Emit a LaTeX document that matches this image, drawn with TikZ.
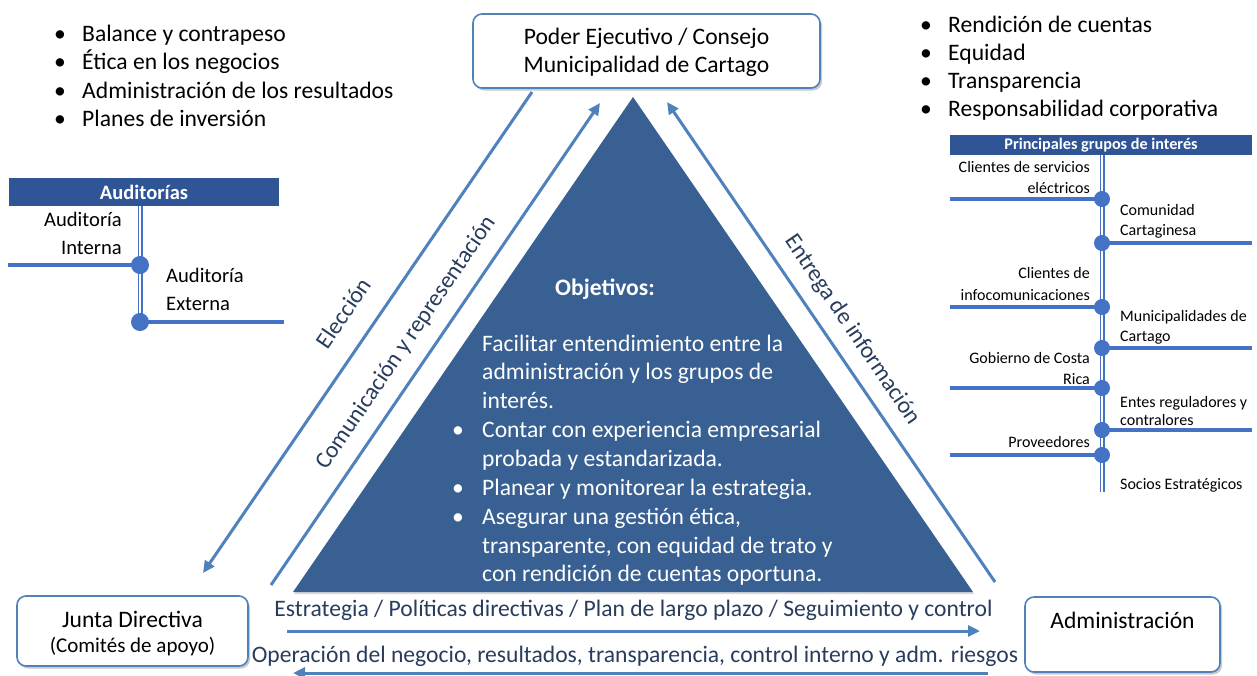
\documentclass[tikz,border=0pt]{standalone}
\usepackage{fontspec}
\setmainfont{Carlito}
\usetikzlibrary{arrows.meta,shadows}
\definecolor{tri}{RGB}{56,96,146}
\definecolor{hdr}{RGB}{47,85,151}
\definecolor{lnc}{RGB}{68,114,196}
\definecolor{arc}{RGB}{79,129,189}
\definecolor{lbl}{RGB}{40,60,92}
\tikzset{
  txt/.style={inner sep=0pt, font=\fontsize{23.6}{28}\selectfont},
  sm/.style={inner sep=0pt, font=\fontsize{16}{19}\selectfont},
  wt/.style={txt, text=white},
  rbox/.style={draw=arc, line width=1.6pt, rounded corners=9pt, fill=white,
     drop shadow={shadow xshift=2pt, shadow yshift=-2.5pt, opacity=0.35, fill=black!60}},
  flow/.style={draw=arc, line width=3pt, -{Triangle[length=12pt,width=11pt]}},
  rail/.style={draw=lnc, line width=5pt},
  railw/.style={draw=white, line width=1.2pt},
  hline/.style={draw=lnc, line width=4.5pt},
  dot/.style={circle, fill=lnc, minimum size=16pt, inner sep=0pt},
  hbar/.style={fill=hdr, inner sep=0pt, text=white},
  aud/.style={txt, font=\fontsize{20.6}{24}\selectfont},
}
\begin{document}
\begin{tikzpicture}[x=1pt,y=-1pt]
\useasboundingbox (0,0) rectangle (1257,675);

% ---------- boxes ----------
\node[rbox, minimum width=347pt, minimum height=74pt] (pe) at (646.5,51) {};
\node[txt, anchor=base] (pe1) at (646.5,44) {Poder Ejecutivo / Consejo};
\node[txt, anchor=base] (pe2) at (646.5,72) {Municipalidad de Cartago};

\node[rbox, minimum width=231pt, minimum height=70pt] (jd) at (132.5,631) {};
\node[txt, anchor=base] (jd1) at (132.5,627) {Junta Directiva};
\node[txt, anchor=base, font=\fontsize{21}{24}\selectfont] (jd2) at (132.5,652) {(Comités de apoyo)};

\node[rbox, minimum width=195pt, minimum height=75pt] (ad) at (1122.5,634.5) {};
\node[txt, anchor=base] (ad1) at (1122.5,628) {Administración};

% ---------- triangle ----------
\coordinate (apex) at (633,97);
\coordinate (bl) at (293,592);
\coordinate (br) at (973,592);
\fill[tri, drop shadow={shadow xshift=1pt, shadow yshift=-2pt, opacity=0.3}] (apex) -- (br) -- (bl) -- cycle;

\node[wt, anchor=base, font=\bfseries\fontsize{23.6}{28}\selectfont] (obj) at (605,295) {Objetivos:};
\node[wt, anchor=base west] (t1) at (482,351) {Facilitar entendimiento entre la};
\node[wt, anchor=base west] (t2) at (482,379.5) {administración y los grupos de};
\node[wt, anchor=base west] (t3) at (482,408) {interés.};
\node[wt, anchor=base west] (b1) at (452,437) {\textbullet};
\node[wt, anchor=base west] (t4) at (482,437) {Contar con experiencia empresarial};
\node[wt, anchor=base west] (t5) at (482,466) {probada y estandarizada.};
\node[wt, anchor=base west] (b2) at (452,495) {\textbullet};
\node[wt, anchor=base west] (t6) at (482,495) {Planear y monitorear la estrategia.};
\node[wt, anchor=base west] (b3) at (452,524) {\textbullet};
\node[wt, anchor=base west] (t7) at (482,524) {Asegurar una gestión ética,};
\node[wt, anchor=base west] (t8) at (482,553) {transparente, con equidad de trato y};
\node[wt, anchor=base west] (t9) at (482,581) {con rendición de cuentas oportuna.};

% ---------- diagonal arrows ----------
\coordinate (e1) at (532,92);
\coordinate (e2) at (203,573);
\draw[flow] (e1) -- (e2);
\coordinate (c1) at (271,585);
\coordinate (c2) at (600,103);
\draw[flow] (c1) -- (c2);
\coordinate (n1) at (995,582);
\coordinate (n2) at (667,102);
\draw[flow] (n1) -- (n2);

\node[txt, text=lbl, rotate=55.7] (lel) at (343,313) {Elección};
\node[txt, text=lbl, rotate=55.7] (lco) at (406,343) {Comunicación y representación};
\node[txt, text=lbl, rotate=-55.9] (len) at (852,330) {Entrega de información};

% ---------- horizontal arrows ----------
\node[txt, text=lbl, anchor=base] (hs) at (633.5,616) {Estrategia / Políticas directivas / Plan de largo plazo / Seguimiento y control};
\coordinate (h1) at (287,631);
\coordinate (h2) at (980,631);
\draw[flow] (h1) -- (h2);
\node[txt, text=lbl, anchor=base] (ho) at (635,662) {Operación del negocio, resultados, transparencia, control interno y adm. riesgos};
\coordinate (o1) at (988,673);
\coordinate (o2) at (293,673);
\draw[flow] (o1) -- (o2);

% ---------- bullet lists ----------
\foreach \i/\t in {0/Balance y contrapeso,1/Ética en los negocios,2/Administración de los resultados,3/Planes de inversión}{
  \node[txt, anchor=base west] (lb\i) at (54,41.5+28.3*\i) {\textbullet};
  \node[txt, anchor=base west] (lt\i) at (82,41.5+28.3*\i) {\t};
}
\foreach \i/\t in {0/Rendición de cuentas,1/Equidad,2/Transparencia,3/Responsabilidad corporativa}{
  \node[txt, anchor=base west] (rb\i) at (920,32+28.3*\i) {\textbullet};
  \node[txt, anchor=base west] (rt\i) at (948,32+28.3*\i) {\t};
}

% ---------- Auditorias ----------
\coordinate (av1) at (140,206);
\coordinate (av2) at (140,322);
\draw[rail] (av1) -- (av2);
\draw[railw] (av1) -- (av2);
\node[hbar, minimum width=270pt, minimum height=28pt, font=\bfseries\fontsize{20.5}{24}\selectfont] (aud) at (144,192) {Auditorías};
\coordinate (ai0) at (8,265);
\node[dot, minimum size=18pt] (ai) at (140,265) {};
\draw[hline] (ai0) -- (ai.center);
\coordinate (ae0) at (284,322);
\node[dot, minimum size=18pt] (ae) at (140,322) {};
\draw[hline] (ae.center) -- (ae0);
\node[aud, anchor=base east] (ai1) at (122,226) {Auditoría};
\node[aud, anchor=base east] (ai2) at (122,254) {Interna};
\node[aud, anchor=base west] (ae1) at (166,282) {Auditoría};
\node[aud, anchor=base west] (ae2) at (166,310) {Externa};

% ---------- Principales grupos ----------
\coordinate (gv1) at (1102,155);
\coordinate (gv2) at (1102,492);
\draw[rail] (gv1) -- (gv2);
\draw[railw] (gv1) -- (gv2);
\node[hbar, minimum width=302pt, minimum height=20pt, font=\bfseries\fontsize{16.2}{19}\selectfont] (pg) at (1101,145) {Principales grupos de interés};

\foreach \n/\y in {g1/199,g3/307,g5/388,g7/455}{
  \node[dot] (\n) at (1102,\y) {};
  \coordinate (\n l) at (950,\y);
  \draw[hline, line width=3.5pt] (\n l) -- (\n.center);
}
\foreach \n/\y in {g2/243,g4/348,g6/430}{
  \node[dot] (\n) at (1102,\y) {};
  \coordinate (\n r) at (1252,\y);
  \draw[hline, line width=3.5pt] (\n.center) -- (\n r);
}
\node[sm, anchor=base east] (gt1a) at (1090,172) {Clientes de servicios};
\node[sm, anchor=base east] (gt1b) at (1090,193) {eléctricos};
\node[sm, anchor=base west] (gt2a) at (1120,215) {Comunidad};
\node[sm, anchor=base west] (gt2b) at (1120,235) {Cartaginesa};
\node[sm, anchor=base east] (gt3a) at (1090,278) {Clientes de};
\node[sm, anchor=base east] (gt3b) at (1090,300) {infocomunicaciones};
\node[sm, anchor=base west] (gt4a) at (1120,321) {Municipalidades de};
\node[sm, anchor=base west] (gt4b) at (1120,341) {Cartago};
\node[sm, anchor=base east] (gt5a) at (1090,363) {Gobierno de Costa};
\node[sm, anchor=base east] (gt5b) at (1090,384) {Rica};
\node[sm, anchor=base west] (gt6a) at (1120,407) {Entes reguladores y};
\node[sm, anchor=base west] (gt6b) at (1120,425) {contralores};
\node[sm, anchor=base east] (gt7a) at (1090,447) {Proveedores};
\node[sm, anchor=base west] (gt8a) at (1120,489) {Socios Estratégicos};
\end{tikzpicture}
\end{document}
